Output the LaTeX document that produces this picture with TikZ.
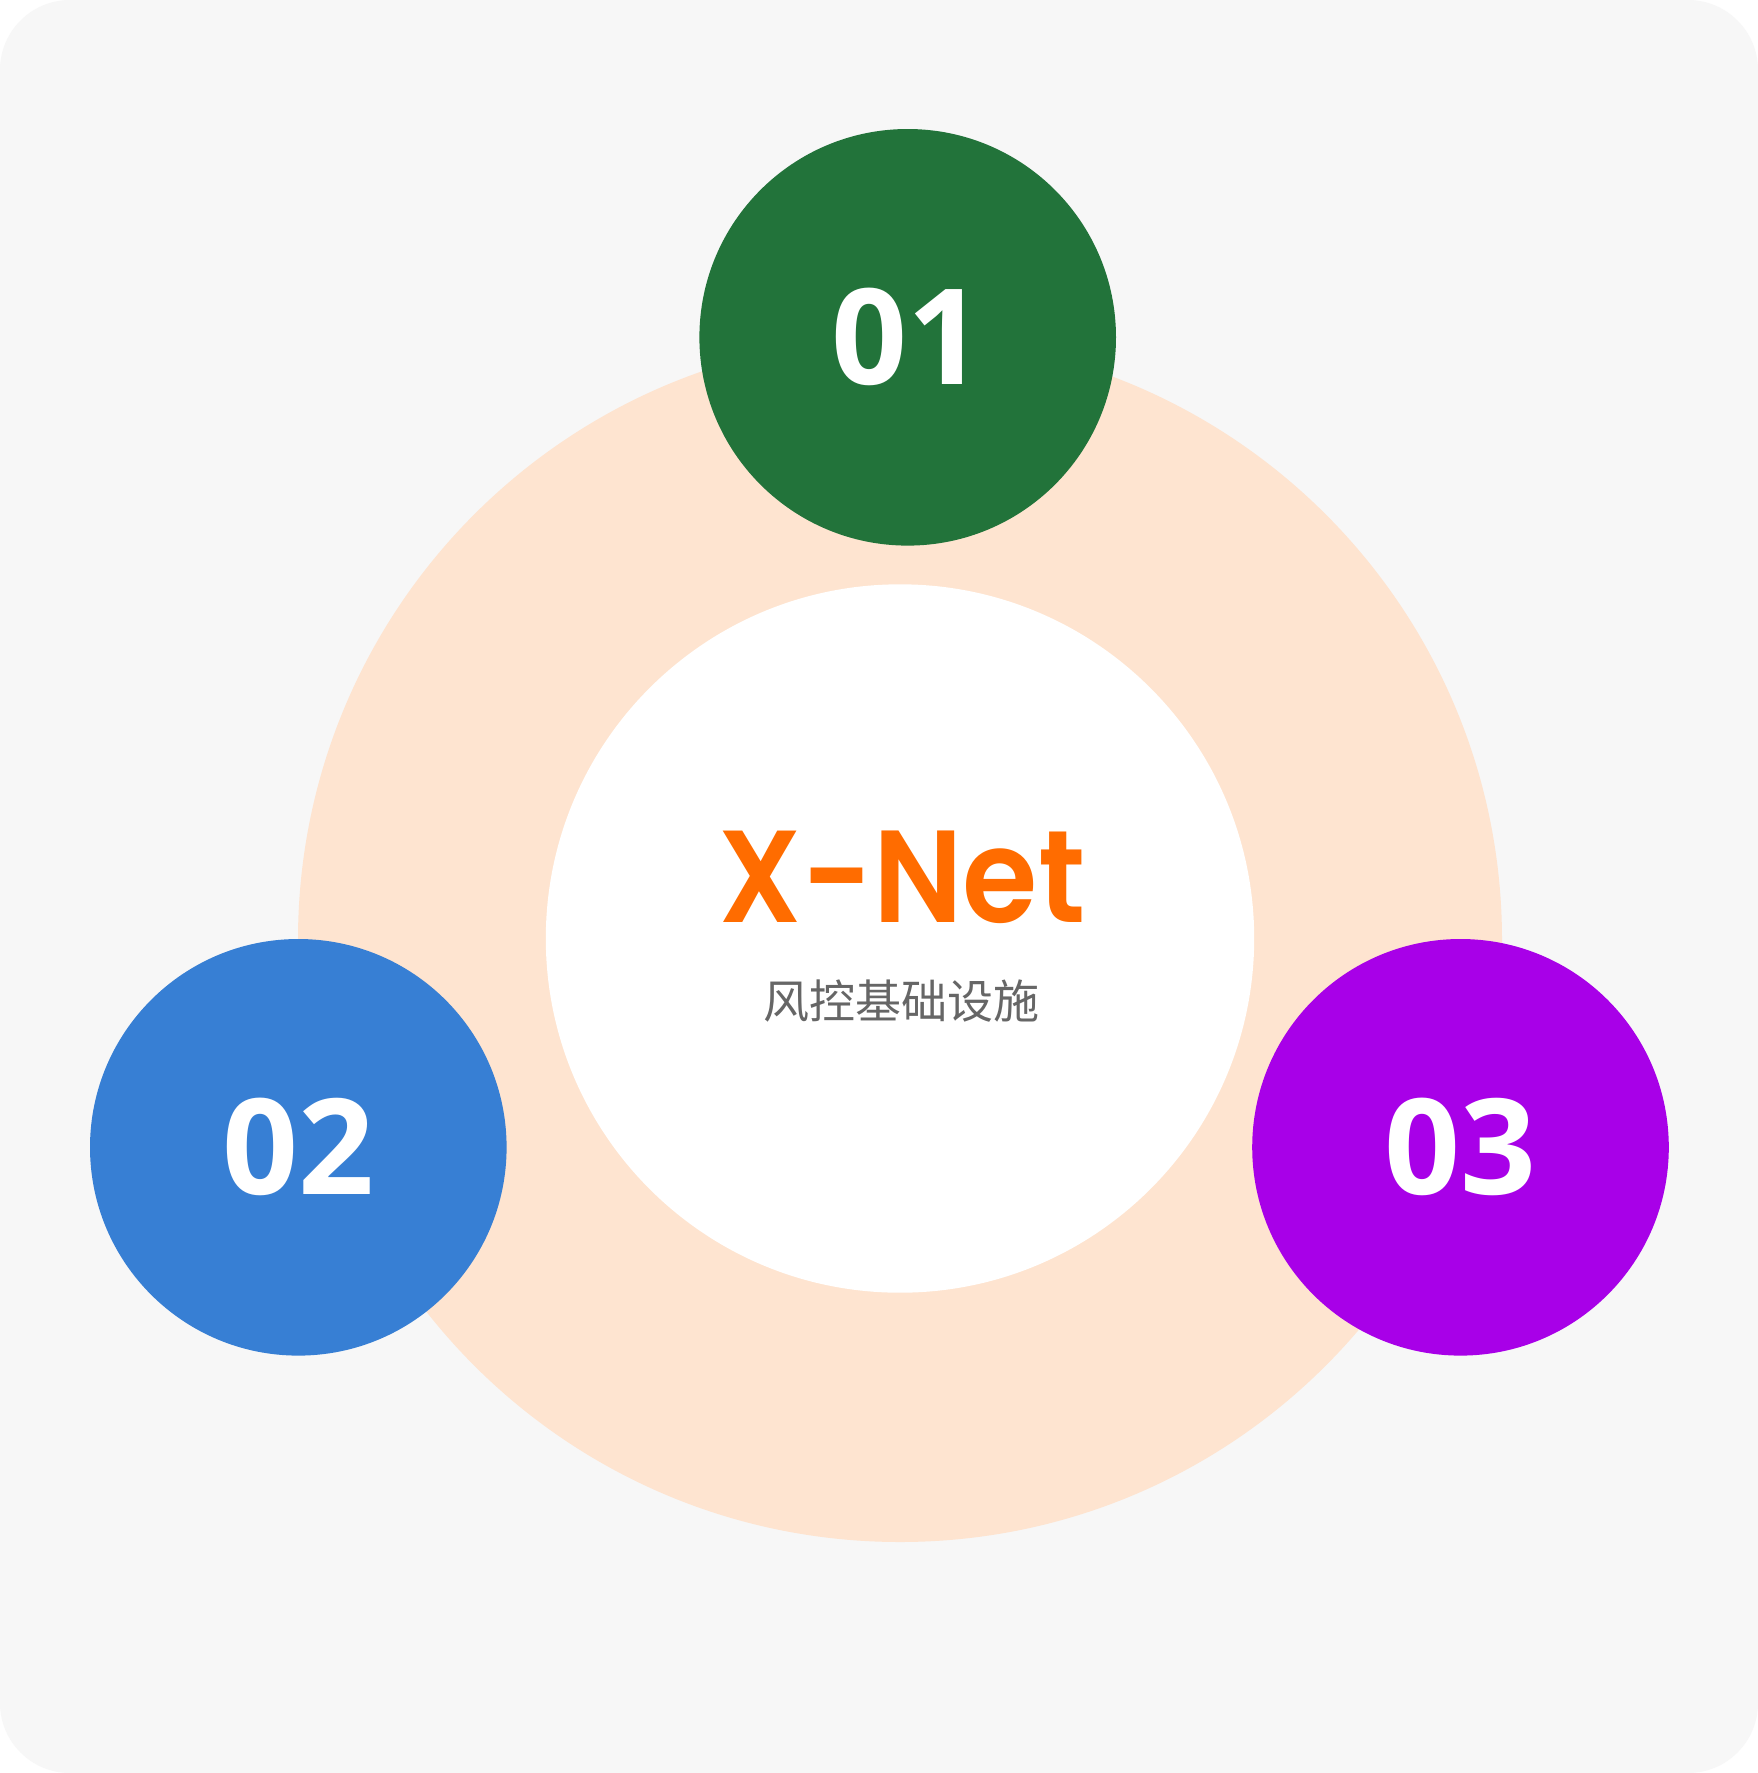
\documentclass[tikz,border=0pt]{standalone}
\usepackage{fontspec}
\newfontfamily\cjk{Noto Sans CJK SC}
\newfontfamily\numfont{Open Sans}
\newfontfamily\titlefont{Poppins SemiBold}[FakeStretch=0.93]
\definecolor{bgc}{HTML}{F7F7F7}
\definecolor{peach}{HTML}{FEE4D0}
\definecolor{greenc}{HTML}{22733A}
\definecolor{bluec}{HTML}{377FD4}
\definecolor{purplec}{HTML}{A800E8}
\definecolor{orangec}{HTML}{FF6C00}
\definecolor{grayc}{HTML}{666666}
\tikzset{
  disc/.style={circle, inner sep=0pt, draw=none},
  numdisc/.style={disc, minimum size=416.6pt, text=white,
    font=\numfont\bfseries\fontsize{133}{133}\selectfont},
}
\begin{document}
\begin{tikzpicture}[x=1pt,y=-1pt]
\useasboundingbox (0,0) rectangle (1758,1773);
\fill[white] (0,0) rectangle (1758,1773);
\fill[bgc, rounded corners=70pt] (0,0) rectangle (1758,1773);
\node[disc, fill=peach, minimum size=1204pt] (ring) at (900,940) {};
\node[disc, fill=white, minimum size=708.4pt] (core) at (900,938.5) {};
\node[numdisc, fill=greenc] (n1) at (907.7,337.3) {01};
\node[numdisc, fill=bluec] (n2) at (298.3,1147.3) {02};
\node[numdisc, fill=purplec] (n3) at (1460.5,1147.3) {03};
\node[anchor=base, inner sep=0pt, text=orangec,
  font=\titlefont\fontsize{131}{131}\selectfont] (title) at (902,922) {X-Net};
\node[inner sep=0pt, text=grayc,
  font=\cjk\fontsize{46}{46}\selectfont] (sub) at (901.5,1001) {风控基础设施};
\end{tikzpicture}
\end{document}
